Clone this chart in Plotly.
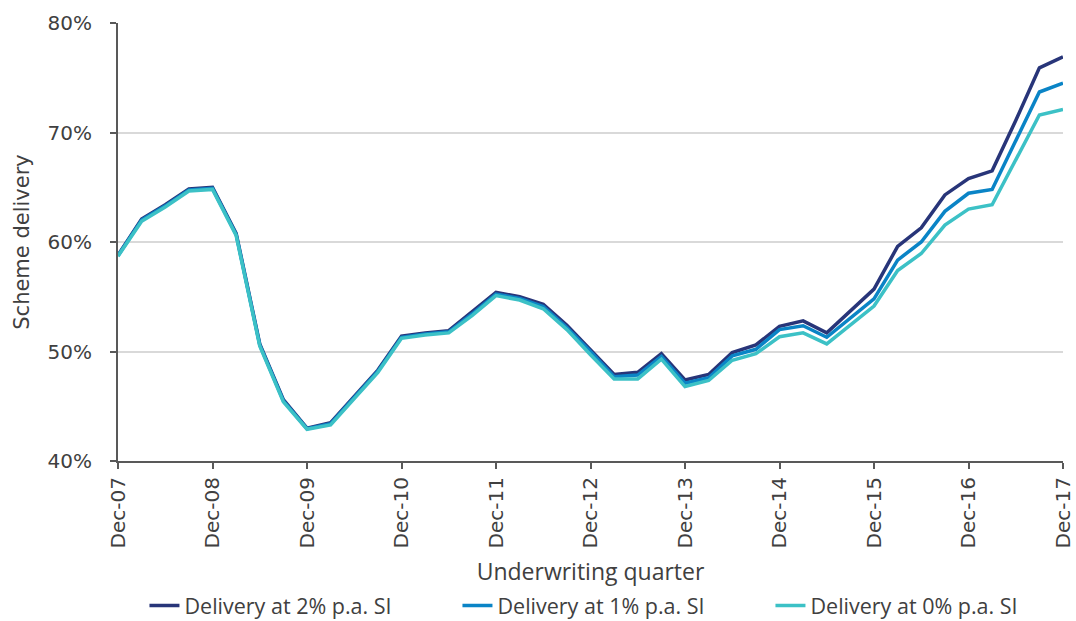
import plotly.graph_objects as go

quarters = []
for yr in range(7, 18):
    for m in (["Dec"] if yr == 7 else ["Mar", "Jun", "Sep", "Dec"]):
        quarters.append(f"{m}-{yr:02d}")

tick_labels = [f"Dec-{y:02d}" for y in range(7, 18)]

si_2 = [58.8, 62.1, 63.4, 64.85, 65.0, 60.8, 50.7, 45.6, 43.0, 43.5, 45.9, 48.3, 51.4,
        51.7, 51.9, 53.6, 55.4, 55.0, 54.3, 52.4, 50.2, 47.9, 48.1, 49.8, 47.4, 47.9,
        49.9, 50.6, 52.3, 52.8, 51.7, 53.7, 55.7, 59.6, 61.3, 64.3, 65.8, 66.5, 71.1,
        75.9, 76.9]
si_1 = [58.75, 62.0, 63.3, 64.75, 64.9, 60.7, 50.6, 45.5, 42.95, 43.4, 45.8, 48.2, 51.3,
        51.6, 51.8, 53.45, 55.25, 54.85, 54.1, 52.2, 50.0, 47.7, 47.85, 49.55, 47.1, 47.6,
        49.6, 50.2, 52.0, 52.35, 51.3, 53.1, 54.8, 58.35, 60.0, 62.8, 64.45, 64.8, 69.2,
        73.7, 74.5]
si_0 = [58.7, 61.9, 63.2, 64.65, 64.8, 60.6, 50.5, 45.4, 42.9, 43.3, 45.7, 48.1, 51.2,
        51.5, 51.7, 53.3, 55.1, 54.7, 53.9, 52.0, 49.7, 47.5, 47.5, 49.3, 46.8, 47.35,
        49.2, 49.8, 51.35, 51.7, 50.7, 52.4, 54.15, 57.4, 58.95, 61.55, 63.0, 63.4, 67.5,
        71.6, 72.1]

series = [
    ("Delivery at 2% p.a. SI", si_2, "#283579"),
    ("Delivery at 1% p.a. SI", si_1, "#0a84c6"),
    ("Delivery at 0% p.a. SI", si_0, "#3cc1c6"),
]

fig = go.Figure()
for name, vals, col in series:
    fig.add_trace(go.Scatter(x=quarters, y=vals, mode="lines", name=name,
                             line=dict(color=col, width=3.5)))

font_main = "DejaVu Sans"
fig.update_layout(
    width=1076, height=621,
    margin=dict(l=118, r=13, t=23, b=160, autoexpand=False),
    paper_bgcolor="white", plot_bgcolor="white",
    font=dict(family=font_main, size=20, color="#404040"),
    showlegend=True,
    legend=dict(orientation="h", x=0.028, xanchor="left", y=-0.33, yanchor="middle",
                font=dict(family="Open Sans", size=21.5, color="#404040"),
                entrywidth=268, entrywidthmode="pixels", traceorder="normal"),
    xaxis=dict(type="category", range=[0, 40], tickmode="array",
               tickvals=tick_labels, ticktext=tick_labels, tickangle=-90,
               tickfont=dict(size=20),
               showgrid=False, showline=True, linecolor="#595959", linewidth=2,
               ticks="outside", ticklen=6, tickcolor="#595959", tickwidth=2,
               title=dict(text="Underwriting quarter", standoff=17,
                          font=dict(family="Open Sans", size=23, color="#404040"))),
    yaxis=dict(range=[40, 80], dtick=10, ticksuffix="%", showgrid=True,
               gridcolor="#d9d9d9", gridwidth=1.5, showline=True,
               linecolor="#595959", linewidth=2, ticks="outside", ticklen=6,
               tickcolor="#595959", tickwidth=2, zeroline=False,
               ticklabelstandoff=14, tickfont=dict(size=20),
               title=dict(text="Scheme delivery", standoff=12,
                          font=dict(family=font_main, size=21, color="#404040"))),
)

fig.write_html("out.html", config={"displayModeBar": False},
               post_script="document.body.style.margin='0';document.body.style.overflow='hidden';")
